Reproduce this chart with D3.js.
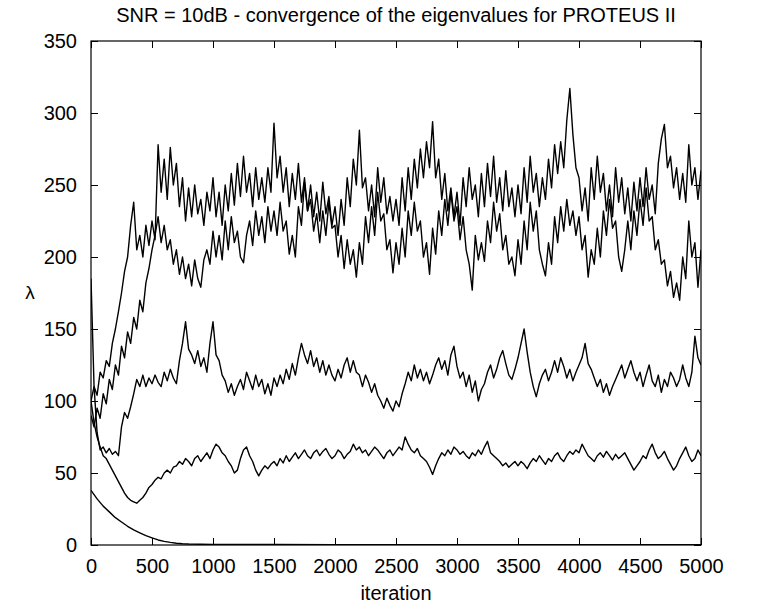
<!DOCTYPE html>
<html>
<head>
<meta charset="utf-8">
<script src="https://cdn.jsdelivr.net/npm/d3@7"></script>
<style>
  body { margin: 0; background: #fff; }
  svg text { font-family: "Liberation Sans", Arial, Helvetica, sans-serif; fill: #000; }
</style>
</head>
<body>
<svg width="757" height="605"></svg>
<script>
// eigenvalue traces, sampled every 25 iterations (0..5000)
var step = 25;

var eig1 = [
  100,110,104,120,116,128,124,140,150,162,175,190,200,222,238,205,215,200,222,208,
  225,212,278,245,268,240,276,250,265,235,255,225,248,228,250,230,240,222,245,232,
  255,228,245,222,250,232,258,236,265,242,270,245,258,235,262,240,255,238,262,245,
  293,255,270,245,262,235,258,240,265,238,255,232,250,228,245,225,252,230,242,222,
  235,215,240,222,255,235,268,250,288,248,255,232,250,228,262,238,255,230,242,225,
  240,222,255,232,262,240,268,248,275,255,280,262,294,255,268,240,258,232,248,228,
  245,222,255,235,262,240,250,228,258,235,265,242,270,238,255,232,260,235,248,228,
  250,230,262,238,270,245,258,235,255,240,268,248,278,258,280,262,295,317,285,262,
  255,232,248,225,262,240,270,245,258,232,250,228,262,238,255,230,248,225,252,232,
  255,235,262,240,250,230,265,282,292,262,270,248,262,240,258,238,278,250,262,240,
  260
];

var eig2 = [
  90,82,95,88,105,98,115,108,125,118,138,130,148,140,158,150,170,162,182,192,
  205,215,228,210,222,205,212,195,205,188,200,185,195,180,198,185,179,198,205,195,
  218,200,215,198,225,205,228,210,218,200,196,215,225,208,232,215,228,210,235,218,
  232,215,238,218,225,202,215,200,235,222,252,232,240,218,230,210,232,215,238,220,
  222,200,215,192,212,195,205,186,210,195,228,210,235,215,245,225,230,205,212,189,
  210,195,220,200,232,215,238,218,225,200,210,188,220,202,232,215,240,222,245,225,
  235,212,228,205,195,177,215,198,210,197,225,210,238,218,230,205,215,195,200,187,
  212,195,225,205,238,218,232,205,195,187,210,195,228,210,235,218,240,222,232,215,
  228,205,215,186,205,195,220,200,232,215,240,220,225,200,190,205,225,205,232,215,
  240,222,248,225,228,205,212,195,198,180,190,172,182,170,200,185,225,200,210,179,
  205
];

var eig3 = [
  185,110,78,66,68,64,67,63,65,62,82,92,88,96,105,115,110,118,110,116,
  112,118,113,110,120,114,122,116,112,128,140,155,136,132,126,135,124,130,120,140,
  155,132,128,118,114,106,112,104,110,115,108,120,114,108,118,110,115,105,112,104,
  116,110,118,112,122,115,126,118,130,140,132,126,135,124,130,120,128,118,125,118,
  114,122,116,125,130,120,128,120,118,110,118,113,106,112,104,100,95,102,97,93,
  100,96,105,112,120,114,125,116,122,114,120,112,118,125,130,122,128,118,132,138,
  124,116,120,110,118,106,114,100,108,112,120,125,116,122,130,135,126,118,115,122,
  130,140,150,134,120,110,103,112,118,122,114,120,128,120,130,124,116,122,114,120,
  125,130,140,126,122,116,110,115,106,112,104,110,115,120,125,116,122,128,120,114,
  120,110,118,125,114,110,118,106,115,110,120,116,110,115,125,116,110,120,145,130,
  125
];

var eig4 = [
  100,85,75,68,62,60,56,52,48,44,40,36,33,31,30,29,31,33,36,40,
  42,45,47,46,50,52,50,54,55,58,56,60,58,55,60,62,58,61,64,60,
  66,70,68,64,62,58,55,50,52,60,66,68,62,58,52,48,52,55,53,56,
  58,55,60,57,62,58,61,64,60,63,66,62,60,64,66,62,65,67,63,60,
  62,66,64,60,63,65,70,66,68,64,66,62,65,68,66,63,60,64,66,62,
  65,68,66,75,70,66,64,67,62,60,58,54,49,55,60,64,62,66,63,68,
  66,63,65,62,60,64,62,66,63,68,72,64,62,60,58,55,57,54,56,58,
  55,58,56,53,57,60,58,62,59,56,60,58,62,64,60,58,62,65,63,66,
  64,70,66,62,60,58,62,64,61,65,62,59,63,60,62,64,60,56,52,55,
  58,62,60,66,70,64,60,62,65,60,56,52,55,60,64,68,62,58,60,66,
  62
];

// smallest eigenvalue, sparser sampling
var eig5Iter = [0,50,100,150,200,250,300,350,400,450,500,550,600,650,700,750,800,900,1000,1500,2000,2500,3000,3500,4000,4500,5000];
var eig5 = [38,32,27,23,19,16,13,10.5,8.5,6.5,5,3.5,2.5,1.8,1.2,0.9,0.7,0.5,0.4,0.3,0.2,0.2,0.2,0.2,0.2,0.2,0.2];

var xTicks = [0,500,1000,1500,2000,2500,3000,3500,4000,4500,5000];
var yTicks = [0,50,100,150,200,250,300,350];

var svg = d3.select("svg"),
    margin = {top: 41, right: 56, bottom: 60, left: 91},
    width = +svg.attr("width") - margin.left - margin.right,
    height = +svg.attr("height") - margin.top - margin.bottom;

var x = d3.scaleLinear().domain([0, 5000]).range([0, width]);
var y = d3.scaleLinear().domain([0, 350]).range([height, 0]);

var g = svg.append("g").attr("transform", "translate(" + margin.left + "," + margin.top + ")");

function toPoints(vals, iters) {
  return vals.map(function(v, i) { return [iters ? iters[i] : i * step, v]; });
}

var line = d3.line()
    .x(function(d) { return x(d[0]); })
    .y(function(d) { return y(d[1]); });

var series = [toPoints(eig1), toPoints(eig2), toPoints(eig3), toPoints(eig4), toPoints(eig5, eig5Iter)];

g.append("clipPath").attr("id", "clip")
  .append("rect").attr("width", width).attr("height", height);

g.append("g")
    .attr("clip-path", "url(#clip)")
  .selectAll("path")
  .data(series)
  .enter().append("path")
    .attr("d", line)
    .attr("fill", "none")
    .attr("stroke", "#000")
    .attr("stroke-width", 1.4)
    .attr("stroke-linejoin", "round");

// axes, ticks pointing inward like matlab
var tick = 7;
var xAxis = g.append("g")
    .attr("transform", "translate(0," + height + ")")
    .call(d3.axisBottom(x).tickValues(xTicks).tickSizeInner(-tick).tickSizeOuter(0).tickPadding(tick + 7).tickFormat(d3.format("d")));
var yAxis = g.append("g")
    .call(d3.axisLeft(y).tickValues(yTicks).tickSizeInner(-tick).tickSizeOuter(0).tickPadding(tick + 7).tickFormat(d3.format("d")));
var xTop = g.append("g")
    .call(d3.axisTop(x).tickValues(xTicks).tickSizeInner(-tick).tickSizeOuter(0).tickFormat(""));
var yRight = g.append("g")
    .attr("transform", "translate(" + width + ",0)")
    .call(d3.axisRight(y).tickValues(yTicks).tickSizeInner(-tick).tickSizeOuter(0).tickFormat(""));

[xAxis, yAxis, xTop, yRight].forEach(function(a) {
  a.select(".domain").remove();
  a.selectAll("line").attr("stroke", "#000").attr("stroke-width", 1);
  a.selectAll("text").style("font-size", "20px").attr("fill", "#000");
});

g.append("rect")
    .attr("width", width)
    .attr("height", height)
    .attr("fill", "none")
    .attr("stroke", "#000")
    .attr("stroke-width", 1.2);

svg.append("text")
    .attr("x", margin.left + width / 2)
    .attr("y", 22)
    .attr("text-anchor", "middle")
    .style("font-size", "20px")
    .text("SNR = 10dB - convergence of the eigenvalues for PROTEUS II");

svg.append("text")
    .attr("x", margin.left + width / 2)
    .attr("y", 600)
    .attr("text-anchor", "middle")
    .style("font-size", "20px")
    .text("iteration");

svg.append("text")
    .attr("x", 30)
    .attr("y", margin.top + height / 2 + 6)
    .attr("text-anchor", "middle")
    .style("font-size", "19px")
    .text("λ");
</script>
</body>
</html>
